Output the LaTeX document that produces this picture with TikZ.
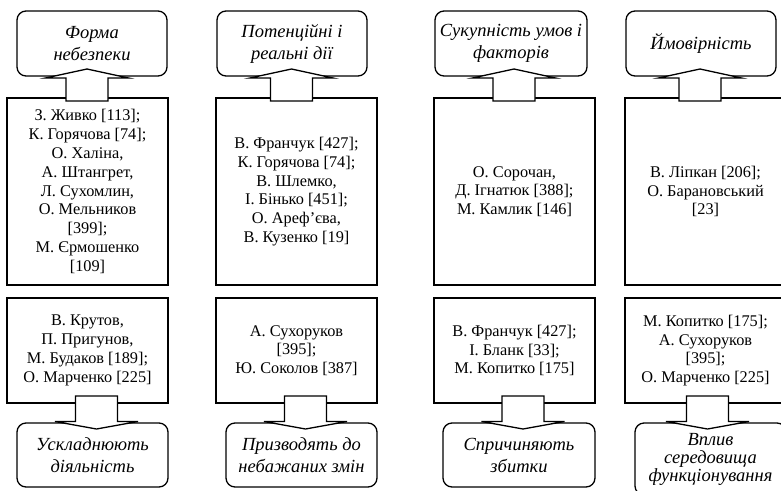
\documentclass[tikz,border=0pt]{standalone}
\usepackage{fontspec}
\setmainfont{Liberation Serif}
\usetikzlibrary{calc}

\tikzset{
  x=1pt, y=1pt,
  every node/.style={inner sep=0pt, outer sep=0pt},
  frame/.style={draw, line width=1.3pt, fill=white, align=center,
    font=\fontsize{16.3}{18.8}\selectfont},
  labelbox/.style={draw, line width=1.3pt, rounded corners=9pt, fill=white,
    align=center, font=\fontsize{18.5}{22}\selectfont\itshape},
  blockarrow/.style={draw, line width=1.3pt, fill=white, line join=miter},
}

% block arrow pointing up: #1 shaft centre x, #2 lower node, #3 upper node
\newcommand\blkup[3]{%
  \draw[blockarrow] let \p1=(#2.north), \p2=(#3.south) in
    (#1-21, \y1-3pt) -- (#1-21, \y2-2pt) -- (#1-41.5, \y2-2pt) -- (#1, \y2+7pt)
    -- (#1+41.5, \y2-2pt) -- (#1+21, \y2-2pt) -- (#1+21, \y1-3pt) -- cycle;
}
% block arrow pointing down: #1 shaft centre x, #2 upper node, #3 lower node
\newcommand\blkdown[3]{%
  \draw[blockarrow] let \p1=(#2.south), \p2=(#3.north) in
    (#1-21, \y1+7pt) -- (#1-21, \y2+1.5pt) -- (#1-41.5, \y2+1.5pt) -- (#1, \y2-6pt)
    -- (#1+41.5, \y2+1.5pt) -- (#1+21, \y2+1.5pt) -- (#1+21, \y1+7pt) -- cycle;
}

\begin{document}
\begin{tikzpicture}
\useasboundingbox (0,0) rectangle (781,-490);
\clip (0,0) rectangle (781,-490);

% top labels
\node[labelbox, minimum width=150pt, minimum height=65pt] (t1) at (92,-43.5) {Форма\\небезпеки};
\node[labelbox, minimum width=150pt, minimum height=65pt] (t2) at (292,-43.5) {Потенційні і\\реальні дії};
\node[labelbox, minimum width=152pt, minimum height=65pt] (t3) at (511,-43.5) {Сукупність умов і\\факторів};
\node[labelbox, minimum width=150pt, minimum height=65pt] (t4) at (701,-43.5) {Ймовірність};

% middle boxes
\node[frame, minimum width=161pt, minimum height=187pt] (m1) at (87.5,-191.5)
  {З. Живко [113];\\К. Горячова [74];\\О. Халіна,\\А. Штангрет,\\Л. Сухомлин,\\О. Мельников\\{[399];}\\М. Єрмошенко\\{[109]}};
\node[frame, minimum width=161pt, minimum height=187pt] (m2) at (296.5,-191.5)
  {В. Франчук [427];\\К. Горячова [74];\\В. Шлемко,\\І. Бінько [451];\\О. Ареф’єва,\\В. Кузенко [19]};
\node[frame, minimum width=161pt, minimum height=187pt] (m3) at (514.5,-191.5)
  {О. Сорочан,\\Д. Ігнатюк [388];\\М. Камлик [146]};
\node[frame, minimum width=161pt, minimum height=187pt] (m4) at (705.5,-191.5)
  {В. Ліпкан [206];\\О. Барановський\\{[23]}};

% lower boxes
\node[frame, minimum width=161pt, minimum height=105pt] (l1) at (87.5,-350.5)
  {В. Крутов,\\П. Пригунов,\\М. Будаков [189];\\О. Марченко [225]};
\node[frame, minimum width=161pt, minimum height=105pt] (l2) at (296.5,-350.5)
  {А. Сухоруков\\{[395];}\\Ю. Соколов [387]};
\node[frame, minimum width=161pt, minimum height=105pt] (l3) at (514.5,-350.5)
  {В. Франчук [427];\\І. Бланк [33];\\М. Копитко [175]};
\node[frame, minimum width=161pt, minimum height=105pt] (l4) at (705.5,-350.5)
  {М. Копитко [175];\\А. Сухоруков\\{[395];}\\О. Марченко [225]};

% bottom labels
\node[labelbox, minimum width=151pt, minimum height=64pt] (b1) at (92.5,-455) {Ускладнюють\\діяльність};
\node[labelbox, minimum width=151pt, minimum height=64pt] (b2) at (301.5,-455) {Призводять до\\небажаних змін};
\node[labelbox, minimum width=152pt, minimum height=64pt] (b3) at (519,-455) {Спричиняють\\збитки};
\node[labelbox, minimum width=151pt, minimum height=72pt,
  font=\fontsize{18.5}{18}\selectfont\itshape] (b4) at (710.5,-459) {Вплив\\середовища\\функціонування};

% block arrows
\blkup{87}{m1}{t1}
\blkup{291.5}{m2}{t2}
\blkup{514}{m3}{t3}
\blkup{700}{m4}{t4}
\blkdown{96.5}{l1}{b1}
\blkdown{305.5}{l2}{b2}
\blkdown{523}{l3}{b3}
\blkdown{707.5}{l4}{b4}
\end{tikzpicture}
\end{document}
